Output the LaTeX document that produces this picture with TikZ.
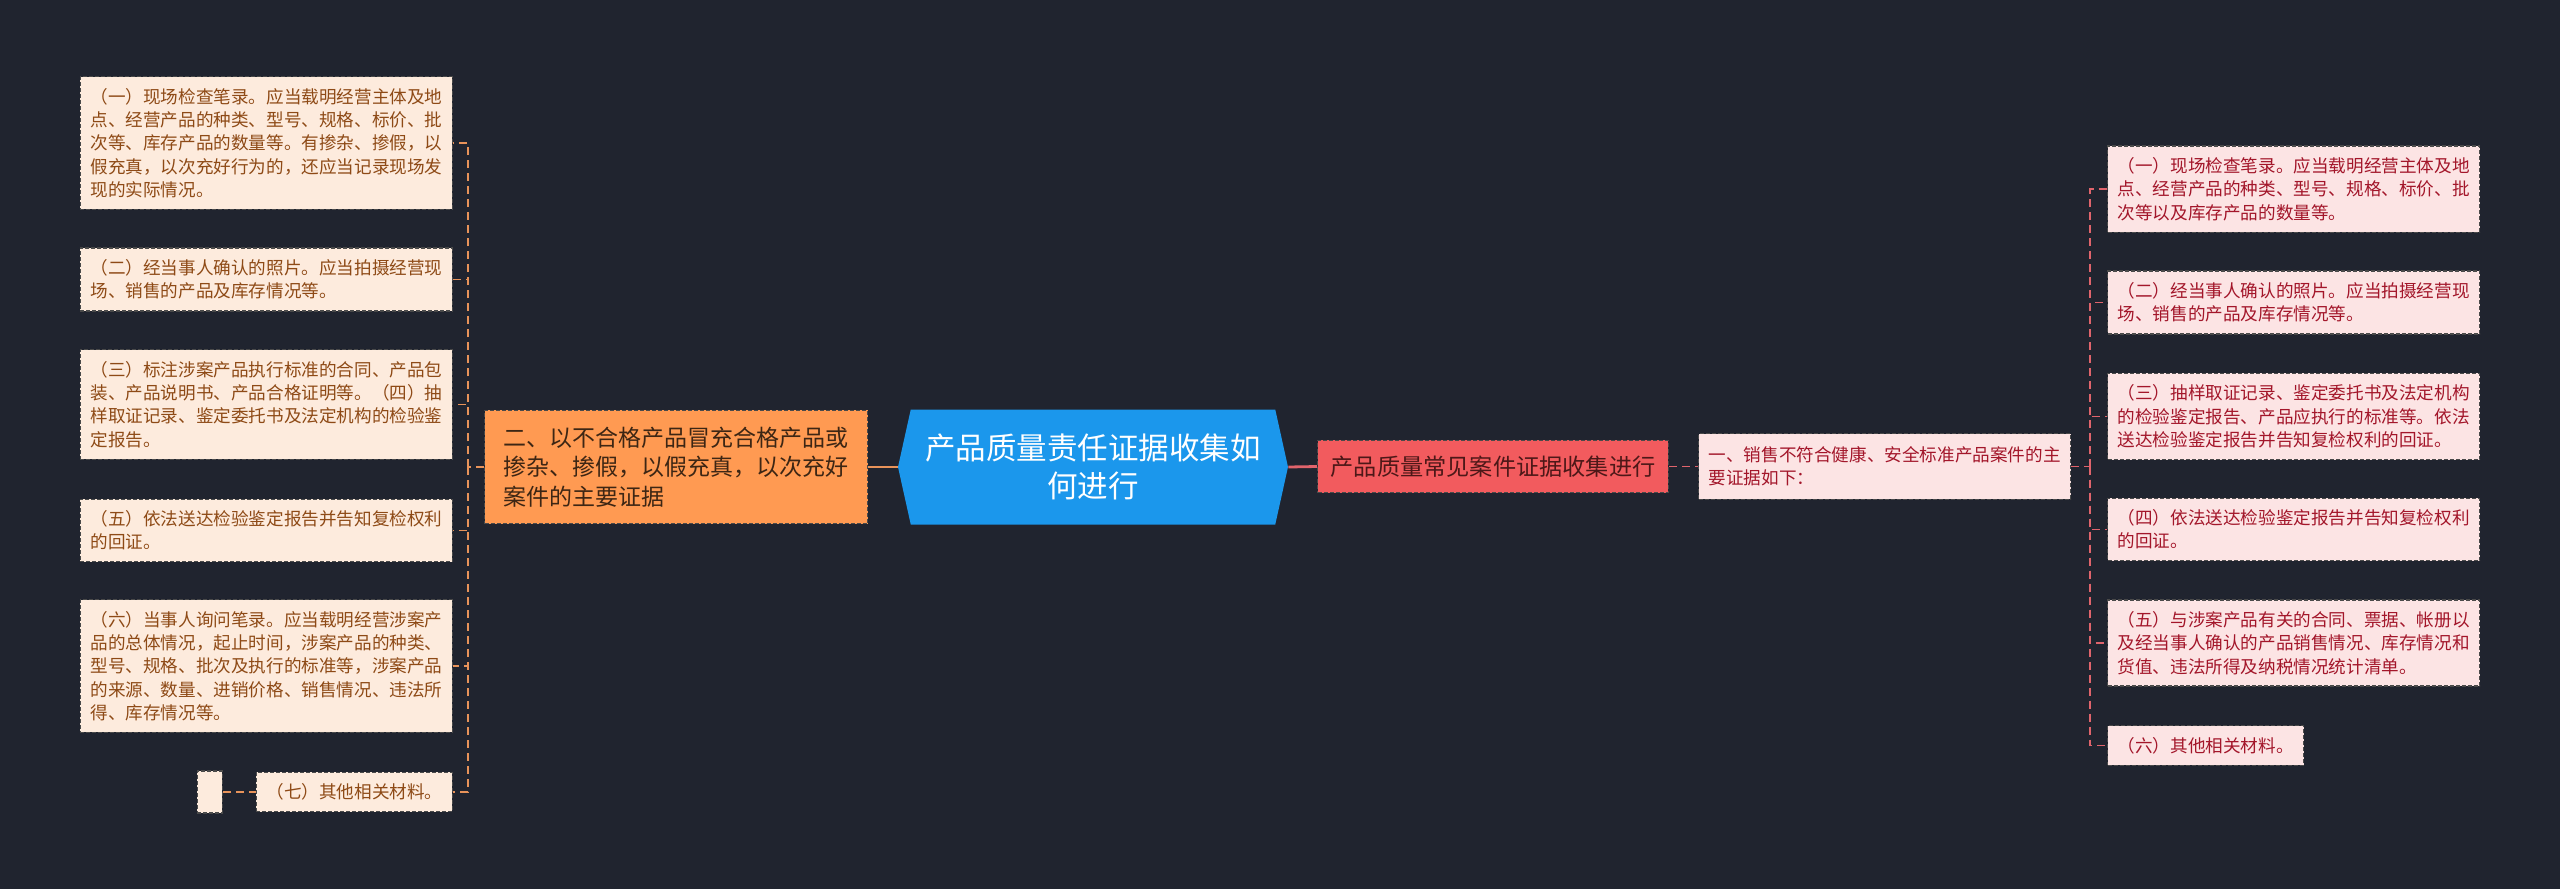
\documentclass[tikz,border=0pt]{standalone}
\usepackage{fontspec}
\setmainfont{Noto Sans CJK SC}
\usetikzlibrary{shapes.symbols}

\definecolor{bgdark}{HTML}{20242F}
\definecolor{peach}{HTML}{FDEBDD}
\definecolor{peachtext}{HTML}{8E4A16}
\definecolor{orangenode}{HTML}{FF9A52}
\definecolor{orangetext}{HTML}{3D2614}
\definecolor{hubblue}{HTML}{1B97EC}
\definecolor{rednode}{HTML}{F25B5E}
\definecolor{redtext}{HTML}{4D1818}
\definecolor{pinknode}{HTML}{FCE4E4}
\definecolor{pinktext}{HTML}{A3162A}
\definecolor{boxline}{HTML}{4A4A4A}
\definecolor{linkorange}{HTML}{E8935A}
\definecolor{linkred}{HTML}{E0646C}

\begin{document}
\begin{tikzpicture}[x=0.5pt,y=-0.5pt,
    box/.style={draw=boxline,line width=0.6pt,dash pattern=on 2pt off 1pt,align=left,
      inner xsep=5pt,inner ysep=5.75pt,font=\fontsize{8.8pt}{11.65pt}\selectfont},
    leafL/.style={box,fill=peach,text=peachtext,anchor=east},
    leafR/.style={box,fill=pinknode,text=pinktext,anchor=west},
    wide/.style={text width=176pt},
    linkL/.style={draw=linkorange,line width=0.9pt,dash pattern=on 4pt off 2.5pt},
    linkR/.style={draw=linkred,line width=0.9pt,dash pattern=on 4pt off 2.5pt}]
  \fill[bgdark] (0,0) rectangle (2560,889);

  % centre and main branches
  \node[signal,signal to=west and east,signal pointer angle=155,fill=hubblue,text=white,
    align=center,minimum width=195pt,minimum height=57.5pt,inner sep=0pt,
    font=\fontsize{15.25pt}{19pt}\selectfont] (hub) at (1093,467) {产品质量责任证据收集如\\何进行};
  \node[box,fill=orangenode,text=orangetext,text width=173pt,inner xsep=9.25pt,inner ysep=8.25pt,
    font=\fontsize{11.5pt}{14.75pt}\selectfont] (fake) at (676,467)
    {二、以不合格产品冒充合格产品或\\掺杂、掺假，以假充真，以次充好\\案件的主要证据};
  \node[box,fill=rednode,text=redtext,inner xsep=6.5pt,inner ysep=7.6pt,
    font=\fontsize{11.6pt}{14pt}\selectfont] (common) at (1493,466.5) {产品质量常见案件证据收集进行};
  \node[leafR,wide,inner ysep=6.4pt] (unsafe) at (1698,466.5) {一、销售不符合健康、安全标准产品案件的主\\要证据如下：};

  % left leaves
  \node[leafL,wide] (L1) at (453,143) {（一）现场检查笔录。应当载明经营主体及地\\点、经营产品的种类、型号、规格、标价、批\\次等、库存产品的数量等。有掺杂、掺假，以\\假充真，以次充好行为的，还应当记录现场发\\现的实际情况。};
  \node[leafL,wide] (L2) at (453,279.5) {（二）经当事人确认的照片。应当拍摄经营现\\场、销售的产品及库存情况等。};
  \node[leafL,wide] (L3) at (453,404.5) {（三）标注涉案产品执行标准的合同、产品包\\装、产品说明书、产品合格证明等。（四）抽\\样取证记录、鉴定委托书及法定机构的检验鉴\\定报告。};
  \node[leafL,wide] (L4) at (453,530.5) {（五）依法送达检验鉴定报告并告知复检权利\\的回证。};
  \node[leafL,wide] (L5) at (453,666) {（六）当事人询问笔录。应当载明经营涉案产\\品的总体情况，起止时间，涉案产品的种类、\\型号、规格、批次及执行的标准等，涉案产品\\的来源、数量、进销价格、销售情况、违法所\\得、库存情况等。};
  \node[leafL] (L6) at (453,792) {（七）其他相关材料。};
  \node[leafL,minimum width=12.5pt,minimum height=21pt] (blank) at (223,792) {};

  % right leaves
  \node[leafR,wide] (R1) at (2107,189) {（一）现场检查笔录。应当载明经营主体及地\\点、经营产品的种类、型号、规格、标价、批\\次等以及库存产品的数量等。};
  \node[leafR,wide] (R2) at (2107,302.5) {（二）经当事人确认的照片。应当拍摄经营现\\场、销售的产品及库存情况等。};
  \node[leafR,wide] (R3) at (2107,416.5) {（三）抽样取证记录、鉴定委托书及法定机构\\的检验鉴定报告、产品应执行的标准等。依法\\送达检验鉴定报告并告知复检权利的回证。};
  \node[leafR,wide] (R4) at (2107,529.5) {（四）依法送达检验鉴定报告并告知复检权利\\的回证。};
  \node[leafR,wide] (R5) at (2107,643) {（五）与涉案产品有关的合同、票据、帐册以\\及经当事人确认的产品销售情况、库存情况和\\货值、违法所得及纳税情况统计清单。};
  \node[leafR] (R6) at (2107,745.5) {（六）其他相关材料。};

  % connectors
  \coordinate (ljoint) at (468,467);
  \coordinate (rjoint) at (2090,466.5);
  \draw[linkorange,line width=1.4pt] (fake.east) -- (hub.west);
  \draw[linkred,line width=1.4pt] (hub.east) -- (common.west);
  \draw[linkR] (common.east) -- (unsafe.west);
  \draw[linkL] (fake.west) -- (ljoint);
  \foreach \n in {L1,L2,L3,L4,L5,L6}
    \draw[linkL] (ljoint) |- (\n.east);
  \draw[linkL] (blank.east) -- (L6.west);
  \draw[linkR] (unsafe.east) -- (rjoint);
  \foreach \n in {R1,R2,R3,R4,R5,R6}
    \draw[linkR] (rjoint) |- (\n.west);
\end{tikzpicture}
\end{document}
